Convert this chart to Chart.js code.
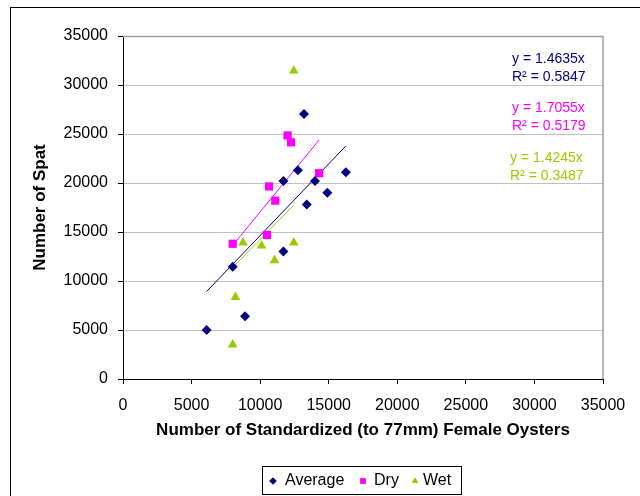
<!DOCTYPE html>
<html>
<head>
<meta charset="utf-8">
<script src="https://cdn.jsdelivr.net/npm/chart.js@4/dist/chart.umd.min.js"></script>
<style>
  html, body { margin: 0; padding: 0; background: #fff; overflow: hidden; }
  #wrap { position: relative; width: 640px; height: 496px; }
  #frame { position: absolute; left: 10px; top: 7px; width: 700px; height: 600px; border: 1px solid #000; box-sizing: border-box; }
  canvas { position: absolute; left: 0; top: 0; }
</style>
</head>
<body>
<div id="wrap">
  <div id="frame"></div>
  <canvas id="c" width="640" height="496"></canvas>
</div>
<script>
// ---- data ----
const seriesNames = ['Average', 'Dry', 'Wet'];

const avgX = [6100, 8000, 8900, 11700, 11700, 12750, 13200, 13400, 14000, 14900, 16250];
const avgY = [5000, 11450, 6400, 13000, 20200, 21300, 27050, 17800, 20200, 19000, 21100];

const dryX = [8000, 10500, 10650, 11100, 12000, 12250, 14300];
const dryY = [13800, 14700, 19650, 18200, 24850, 24150, 21000];

const wetX = [8000, 8200, 8750, 10100, 11050, 12450, 12450];
const wetY = [3500, 8350, 13900, 13600, 12100, 13900, 31450];

// linear trend lines through origin (endpoints at each series' x range)
const avgTrendX = [6100, 16250];
const avgTrendY = [8930, 23780];
const dryTrendX = [8000, 14300];
const dryTrendY = [13640, 24390];
const wetTrendX = [8000, 12450];
const wetTrendY = [11400, 17735];

const eqLines = ['y = 1.4635x', 'y = 1.7055x', 'y = 1.4245x'];
const r2Lines = ['R\u00B2 = 0.5847', 'R\u00B2 = 0.5179', 'R\u00B2 = 0.3487'];

const xTickMax = 35000, yTickMax = 35000, tickStep = 5000;

// ---- styles ----
const NAVY = '#000080', MAG = '#FF00FF', LIME = '#99CC00';
const FONT = "'Liberation Sans', Arial, sans-serif";

const pts = (xs, ys) => xs.map((x, i) => ({ x: x, y: ys[i] }));

const datasets = [
  { label: seriesNames[0], data: pts(avgX, avgY), pointStyle: 'rectRot', pointRadius: 5, backgroundColor: NAVY, borderColor: NAVY, borderWidth: 0, showLine: false, order: 1 },
  { label: seriesNames[1], data: pts(dryX, dryY), pointStyle: 'rect', pointRadius: 5.8, backgroundColor: MAG, borderColor: MAG, borderWidth: 0, showLine: false, order: 1 },
  { label: seriesNames[2], data: pts(wetX, wetY), pointStyle: 'triangle', pointRadius: 5.6, backgroundColor: LIME, borderColor: LIME, borderWidth: 0, showLine: false, order: 1 },
  { label: 'trendAvg', data: pts(avgTrendX, avgTrendY), showLine: true, pointRadius: 0, borderColor: NAVY, borderWidth: 1, order: 2 },
  { label: 'trendDry', data: pts(dryTrendX, dryTrendY), showLine: true, pointRadius: 0, borderColor: MAG, borderWidth: 1, order: 2 },
  { label: 'trendWet', data: pts(wetTrendX, wetTrendY), showLine: true, pointRadius: 0, borderColor: LIME, borderWidth: 1, order: 2 }
];

const extras = {
  id: 'extras',
  afterDraw(chart) {
    const ctx = chart.ctx;
    const a = chart.chartArea;
    ctx.save();
    // plot area border (top / right)
    ctx.strokeStyle = '#a0a0a0';
    ctx.lineWidth = 1.5;
    ctx.beginPath();
    ctx.moveTo(a.left, a.top + 0.5);
    ctx.lineTo(a.right, a.top + 0.5);
    ctx.lineTo(a.right, a.bottom);
    ctx.stroke();

    // equations
    ctx.font = '14px ' + FONT;
    ctx.textBaseline = 'middle';
    ctx.textAlign = 'left';
    const eqColors = [NAVY, MAG, LIME];
    const eqX = [512, 512, 510];
    const eqY = [59, 108, 158];
    for (let i = 0; i < 3; i++) {
      ctx.fillStyle = eqColors[i];
      ctx.fillText(eqLines[i], eqX[i], eqY[i]);
      ctx.fillText(r2Lines[i], eqX[i], eqY[i] + 18);
    }

    // legend
    ctx.strokeStyle = '#000';
    ctx.lineWidth = 1;
    ctx.strokeRect(262.5, 466.5, 199, 28);
    ctx.font = '16px ' + FONT;
    ctx.fillStyle = '#000';
    const items = [
      { ds: 0, mx: 273, tx: 285, r: 3.6 },
      { ds: 1, mx: 363, tx: 374, r: 3.8 },
      { ds: 2, mx: 415, tx: 423, r: 3.6 }
    ];
    items.forEach(it => {
      const d = datasets[it.ds];
      ctx.fillStyle = d.backgroundColor;
      Chart.helpers.drawPoint(ctx, { pointStyle: d.pointStyle, radius: it.r, rotation: 0, borderWidth: 0 }, it.mx, 481);
      ctx.fill();
      ctx.fillStyle = '#000';
      ctx.fillText(d.label, it.tx, 481);
    });
    ctx.restore();
  }
};

const plainTick = v => String(v);

new Chart(document.getElementById('c'), {
  type: 'scatter',
  data: { datasets },
  plugins: [extras],
  options: {
    responsive: false,
    animation: false,
    events: [],
    layout: { padding: { left: 0, top: 36, right: 37, bottom: 0 } },
    plugins: { legend: { display: false }, tooltip: { enabled: false } },
    scales: {
      x: {
        type: 'linear', min: 0, max: xTickMax,
        afterFit(s) { s.height = 117; },
        ticks: { stepSize: tickStep, color: '#000', font: { family: FONT, size: 16 }, padding: 12, maxRotation: 0, callback: plainTick },
        grid: { drawOnChartArea: false, drawTicks: true, tickLength: 5, tickColor: '#000' },
        border: { color: '#000', width: 1 },
        title: { display: true, text: 'Number of Standardized (to 77mm) Female Oysters', color: '#000', font: { family: FONT, size: 17, weight: 'bold' }, padding: { top: 0, bottom: 55 } }
      },
      y: {
        type: 'linear', min: 0, max: yTickMax,
        afterFit(s) { s.width = 123; },
        ticks: { stepSize: tickStep, color: '#000', font: { family: FONT, size: 16 }, padding: 10, callback: plainTick },
        grid: { color: '#c0c0c0', lineWidth: 1, drawTicks: true, tickLength: 5, tickColor: '#000' },
        border: { color: '#000', width: 1 },
        title: { display: true, text: 'Number of Spat', color: '#000', font: { family: FONT, size: 17, weight: 'bold' }, padding: { top: 30, bottom: 0 } }
      }
    }
  }
});
</script>
</body>
</html>
